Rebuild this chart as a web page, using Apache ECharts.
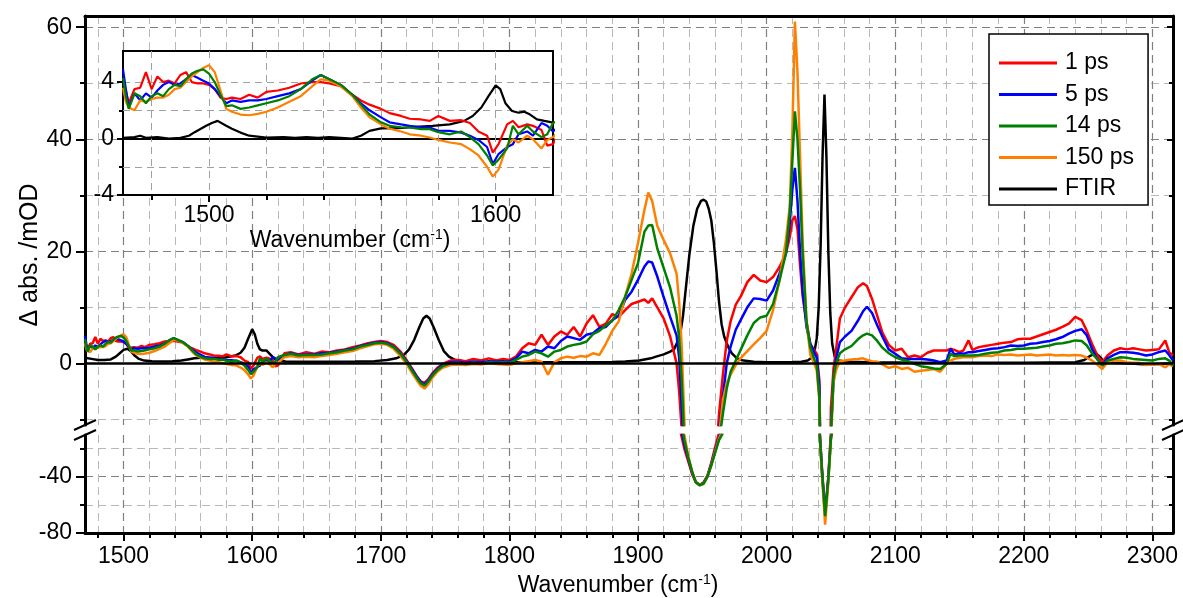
<!DOCTYPE html>
<html>
<head>
<meta charset="utf-8">
<script src="https://cdn.jsdelivr.net/npm/echarts@6/dist/echarts.min.js"></script>
<style>
  html, body { margin: 0; padding: 0; background: #fff; }
  #chart { width: 1183px; height: 598px; }
</style>
</head>
<body>
<div id="chart"></div>
<script>
// ---------------- data ----------------
// Probe wavenumbers (cm^-1) shared by the four time-resolved spectra
const wn = [
  1470,1471,1472,1474,1476,1478,1480,1482,1484,1486,
  1488,1490,1492,1494,1496,1498,1500,1502,1504,1506,
  1508,1511,1514,1517,1520,1524,1528,1532,1536,1539,
  1542,1546,1550,1553,1556,1560,1563,1567,1570,1574,
  1577,1580,1584,1588,1591,1594,1597,1599,1601,1604,
  1606,1608,1611,1613,1616,1618,1620,
  1625,1630,1636,1642,1648,1654,1660,1666,1672,1678,
  1684,1690,1695,1700,1705,1710,1715,1720,1724,1728,
  1731,1734,1737,1740,1744,1748,1754,1760,1766,1772,
  1778,1784,1790,1795,1800,
  1805,1810,1815,1820,1825,1830,1835,1840,1845,1850,
  1855,1860,1865,1870,1875,1880,1885,1890,1895,1900,
  1905,1908,1911,1915,1920,1925,1930,
  1932,1934,1936,1939,1942,1945,1948,1951,1954,1957,
  1960,1963,1966,1969,1972,1976,1980,1985,1990,1995,
  2000,2005,2010,2015,2018,2020,2022,2024,2026,2028,
  2031,2034,2037,2039,2041,2043,2045.5,2048,2050,2052,
  2054,2057,2061,2066,2071,2075,2078,2082,2086,2090,
  2095,2100,2105,2110,2115,2120,2125,2130,2135,2140,
  2143,2146,2150,2153,2157,2160,2165,2170,2175,2180,
  2185,2190,2195,2200,2205,2210,2215,2220,2225,2230,
  2235,2240,2245,2249,2253,2257,2261,2265,2270,2275,
  2280,2285,2290,2295,2300,2305,2310,2313,2316
];

// Δ absorbance (mOD) at 1 ps
const ps1 = [
  3.2,3.4,2.5,3.5,3.6,4.7,3.5,4.4,4.0,4.1,
  3.9,4.5,4.7,4.0,3.9,3.9,3.8,3.5,2.9,2.8,
  2.9,2.8,3.1,2.9,3.3,3.4,3.6,3.9,4.0,4.0,
  3.9,3.7,3.1,2.7,2.4,2.1,1.8,1.6,1.4,1.35,
  1.25,1.6,1.25,1.3,1.1,0.5,0.2,-1.0,-0.4,1.0,
  1.25,0.8,1.0,0.9,0.6,-0.5,-0.4,
  1.8,2.0,1.6,2.0,1.7,2.1,2.0,2.3,2.5,2.9,
  3.2,3.6,3.8,4.0,3.8,3.3,2.2,0.6,-0.8,-2.3,
  -3.2,-3.5,-2.8,-1.8,-0.8,-0.1,0.5,0.6,0.4,0.8,
  0.5,0.9,0.5,0.8,0.6,
  1.2,2.7,3.6,3.3,5.1,3.3,4.8,5.7,5.1,6.5,
  4.8,7.1,8.6,6.5,7.1,8.8,8.3,9.5,10.6,11.0,
  11.4,10.8,11.6,10.0,8.0,4.8,0.0,
  -5,-12,-20,-29,-38,-44,-46,-44,-39,-30,
  -19,-9,-2,4,7.5,10.5,12,14.5,15.8,14.8,
  14.5,15.4,17.2,19.6,22.5,25.5,26.3,24,17.5,12,
  7.5,3.4,2.4,1.7,-3,-33,-66,-40,-8,-1,
  2.5,8,10,11.8,13.6,14.3,13.8,11.5,8.5,5.5,
  3.3,2.3,2.6,1.1,1.4,1.1,1.9,2.3,2.3,2.3,
  2.6,2.4,2.0,2.3,4.1,2.4,2.9,3.1,3.3,3.5,
  3.7,3.8,4.3,4.4,4.4,4.8,5.2,5.6,6.0,6.5,
  7.1,8.3,7.7,5.8,3.5,1.5,0.2,1.4,2.3,2.7,
  2.5,2.7,2.5,2.3,2.4,2.5,4.1,2.0,1.4
];

// Δ absorbance (mOD) at 5 ps
const ps5 = [
  4.9,3.5,2.2,3.2,2.7,3.2,2.9,3.4,3.8,4.0,
  3.8,3.9,4.2,4.5,4.3,4.1,3.9,3.5,3.0,2.5,
  2.7,2.6,2.7,2.7,2.8,3.0,3.2,3.5,4.1,4.5,
  4.2,3.8,3.1,2.5,2.0,1.5,1.15,1.0,0.9,0.8,
  0.78,0.55,0.54,0.42,0.2,-0.1,-0.6,-1.8,-1.1,-0.6,
  -0.4,0.3,0.5,0.2,1.1,0.9,0.5,
  1.4,1.8,1.5,1.6,1.6,1.8,1.9,2.1,2.4,2.6,
  3.1,3.4,3.7,3.8,3.6,3.0,1.9,0.4,-1.0,-2.4,
  -3.3,-3.8,-3.0,-2.0,-1.0,-0.3,0.2,0.3,0.1,0.3,
  0.2,0.4,0.3,0.4,0.3,
  0.9,2.1,1.8,2.4,2.1,3.0,2.7,4.0,4.8,4.5,
  4.2,5.1,5.4,6.3,6.5,7.7,8.5,11.3,12.8,14.9,
  17.3,18.2,18.0,15.5,11.8,8.3,5.0,
  1.0,-8,-17,-27,-37,-44,-46,-44.5,-40,-31,
  -21,-12,-6,0,3,6,7.8,10,11.6,11.5,
  11.2,13,16,19.6,25,31,34.9,29,20,13,
  6.5,3.5,2.0,1.0,-4,-35,-67,-41,-12,-3,
  0.8,3.8,4.8,5.8,7.6,9.3,10.1,9.0,6.8,4.8,
  2.5,1.7,0.9,0.8,0.8,0.8,0.7,0.5,0.2,0.5,
  2.6,1.6,1.8,1.7,2.0,2.0,2.2,2.4,2.6,2.7,
  2.9,3.2,3.1,3.2,3.5,3.6,3.8,4.0,4.3,4.7,
  5.3,5.8,6.1,5.0,2.6,0.8,-0.4,0.9,1.5,2.0,
  2.0,1.9,1.7,1.4,1.6,2.0,2.3,1.5,0.5
];

// Δ absorbance (mOD) at 14 ps
const ps14 = [
  4.3,3.0,2.1,3.2,3.0,2.5,3.0,3.2,3.0,3.5,
  3.8,3.7,4.2,4.6,4.8,4.9,4.6,4.0,3.1,2.3,
  2.35,2.1,2.2,2.35,2.5,2.7,3.0,3.5,4.2,4.5,
  4.2,3.8,3.1,2.4,1.7,1.15,0.9,0.8,0.78,0.66,
  0.66,0.45,0.3,0.5,0.1,-0.4,-1.2,-1.9,-1.5,-0.7,
  0.9,0.3,0.9,0.5,0.1,0.3,1.1,
  1.5,1.7,1.4,1.5,1.5,1.6,1.8,2.0,2.3,2.5,
  3.0,3.3,3.6,3.7,3.5,2.9,1.8,0.3,-1.2,-2.6,
  -3.5,-4.0,-3.2,-2.2,-1.2,-0.5,0.0,0.1,-0.1,0.1,
  0.0,0.2,0.1,0.2,0.1,
  0.6,1.2,1.5,2.1,1.8,1.2,2.1,2.4,3.0,3.3,
  3.5,3.9,5.2,5.8,6.8,7.6,9.5,11.9,14.9,17.9,
  23.5,24.6,24.7,20.5,17.0,13.5,8.5,
  4.5,-3,-14,-26,-36,-44,-46,-45,-40,-32,
  -23,-14,-9,-4.5,-1.5,0.5,2.5,5,7.2,8.2,
  8.5,10.6,14.8,19.6,27,36,45,40,31,19.5,
  7.5,2.8,0.8,-0.3,-6,-36,-68,-42,-13,-2.5,
  0,1.8,2.5,3.1,4.3,5.0,5.3,5.0,4.0,2.8,
  1.8,1.1,0.7,0.4,-0.1,-0.5,-0.7,-0.9,-1.0,-0.1,
  1.7,1.3,1.4,1.4,1.4,1.4,1.5,1.7,1.9,2.0,
  2.3,2.4,2.6,2.6,2.7,2.8,3.0,3.2,3.5,3.6,
  3.8,4.1,4.0,3.2,1.8,0.8,-0.4,0.5,0.8,1.1,
  1.0,0.8,0.7,0.6,0.5,0.8,0.9,0.5,-0.4
];

// Δ absorbance (mOD) at 150 ps
const ps150 = [
  3.6,2.6,2.2,2.0,2.7,2.6,2.8,2.9,2.9,3.1,
  3.5,3.6,4.0,4.4,4.7,5.0,5.2,4.7,3.4,2.1,
  1.9,1.7,1.65,1.75,1.9,2.2,2.6,3.0,3.7,4.2,
  4.1,3.7,3.0,2.2,1.5,1.0,0.7,0.5,0.3,0.2,
  0.07,-0.1,-0.28,-0.4,-0.75,-1.2,-2.0,-2.7,-2.2,-0.5,
  -0.05,-0.28,0.2,-0.05,-0.7,-0.1,0.1,
  1.1,1.3,1.1,1.2,1.1,1.3,1.5,1.7,2.0,2.2,
  2.7,3.1,3.4,3.5,3.3,2.6,1.4,-0.1,-1.6,-3.0,
  -4.0,-4.5,-3.7,-2.6,-1.5,-0.8,-0.3,-0.2,-0.3,-0.1,
  -0.2,0.0,-0.1,-0.2,-0.3,
  0.0,0.2,0.4,0.6,0.3,-2.0,0.2,0.9,1.2,1.0,
  1.3,1.2,1.8,1.5,3.5,5.8,7.5,11.9,16.0,21.5,
  27.4,30.5,29.0,24.5,22.0,19.6,16.0,
  11,3,-10,-25,-36,-44,-46,-45,-40,-32,
  -22,-13,-6.5,-3.5,-2,-0.3,1.0,2.2,3.4,4.5,
  5.8,9.5,14.8,22,28,41,61,52,37,22,
  7.5,1.5,0,-1.3,-6.5,-38,-74,-44,-14,-3.5,
  -1.2,0.4,0.5,0.7,0.8,0.9,0.6,0.4,0.3,-0.2,
  -0.8,-0.5,-1.0,-0.8,-1.5,-1.3,-1.2,-1.0,-1.5,-0.1,
  0.5,0.8,1.0,1.1,1.1,1.1,1.3,1.4,1.3,1.6,
  1.5,1.6,1.4,1.5,1.6,1.4,1.5,1.6,1.4,1.5,
  1.4,1.5,1.4,1.0,0.5,-0.2,-1.0,0.2,0.5,0.5,
  0.2,0.1,0.1,-0.3,-0.2,-0.1,-0.7,-0.2,-0.5
];

// Ground-state FTIR spectrum, [wavenumber, absorbance] (main panel)
const ftirMain = [
  [1470,1.0],[1475,0.8],[1480,0.6],[1485,0.6],[1490,0.7],[1494,1.2],[1497,1.8],[1500,2.4],
  [1503,2.6],[1506,2.1],[1509,1.3],[1512,0.8],[1516,0.5],[1522,0.4],[1530,0.35],[1538,0.4],
  [1545,0.5],[1550,0.7],[1555,0.9],[1560,1.0],[1570,1.0],[1580,1.1],[1587,1.4],[1591,1.9],
  [1594,2.8],[1597,4.5],[1600,6.1],[1602,5.2],[1604,3.5],[1606,2.5],[1608,2.3],[1611,2.3],
  [1614,1.6],[1617,0.9],[1620,0.5],[1626,0.35],[1640,0.3],[1660,0.3],[1680,0.35],[1695,0.4],
  [1705,0.6],[1712,0.9],[1718,1.5],[1722,2.5],[1726,4.2],[1730,6.5],[1733,8.0],[1735.5,8.5],
  [1738,8.0],[1741,6.5],[1745,4.2],[1749,2.2],[1753,1.2],[1758,0.6],[1765,0.35],[1780,0.25],
  [1800,0.2],[1830,0.2],[1860,0.2],[1880,0.25],[1890,0.35],[1901,0.5],[1910,0.9],[1914,1.2],
  [1920,1.6],[1925,2.1],[1928,2.5],[1931,4.0],[1933,5.5],[1935,8.5],[1937,13],[1940,19.5],
  [1943,24.5],[1946,27.6],[1949,29],[1951,29.2],[1953,28.9],[1955,27.6],[1957,25.5],[1959,21.5],
  [1961,16.5],[1963,11],[1965,7],[1967,4.8],[1970,3.0],[1973,1.8],[1977,0.9],[1982,0.5],
  [1990,0.3],[2000,0.2],[2010,0.2],[2020,0.25],[2027,0.3],[2032,0.5],[2035,1.0],[2037,1.8],
  [2039,4.5],[2040.5,10],[2042,21],[2043.5,37],[2045,48],[2046.5,37],[2048,20],[2049.5,9],
  [2051,3.5],[2053,1.2],[2056,0.5],[2062,0.3],[2080,0.2],[2120,0.1],[2200,0.1],[2240,0.2],
  [2247,0.6],[2252,1.4],[2256,1.8],[2259,1.2],[2262,0.4],[2266,0.1],[2280,0],[2295,-0.2],
  [2305,-0.1],[2316,0]
];

// FTIR trace as drawn in the 1470–1620 cm^-1 inset
const ftirInset = [
  [1470,0.05],[1474,0.1],[1476,0.2],[1478,0.05],[1482,0.1],[1486,0.0],[1490,0.05],[1493,0.2],
  [1495,0.45],[1499,0.9],[1501,1.1],[1503,1.25],[1506,0.9],[1508,0.7],[1511,0.42],[1514,0.2],
  [1520,0.07],[1526,0.1],[1530,0.05],[1534,0.1],[1538,0.05],[1542,0.1],[1546,0.05],[1550,0.0],
  [1553,0.2],[1556,0.54],[1560,0.72],[1566,0.73],[1572,0.82],[1578,0.9],[1584,1.0],[1589,1.25],
  [1592,1.6],[1595,2.2],[1597.5,3.0],[1600,3.76],[1601.6,3.5],[1603.4,2.5],[1605.7,1.95],
  [1608,1.83],[1610,1.9],[1612,1.7],[1614.4,1.36],[1617,1.25],[1620,1.13]
];

const seriesNames = ['1 ps', '5 ps', '14 ps', '150 ps', 'FTIR'];

// Tick positions
const xMajorTicks = [1500,1600,1700,1800,1900,2000,2100,2200,2300];
const xMinorTicks = [1480,1520,1540,1560,1580,1620,1640,1660,1680,1720,1740,1760,1780,
                     1820,1840,1860,1880,1920,1940,1960,1980,2020,2040,2060,2080,
                     2120,2140,2160,2180,2220,2240,2260,2280];
const yUpperMajor = [0,20,40,60];
const yUpperMinor = [-10,10,30,50];
const yLowerMajor = [-40,-80];
const yLowerMinor = [-20,-60];
const insetXMajor = [1500,1600];
const insetXMinor = [1480,1520,1540,1560,1580];
const insetYMajor = [-4,0,4];
const insetYMinor = [-2,2];

// ---------------- layout ----------------
const FONT = 'Liberation Sans';
const PL = 85, PR = 1173, PT = 16, PB = 533;      // outer frame of the main plot
const BREAK_TOP = 425, BREAK_BOT = 435;           // axis break band
const INSET = { left: 123, top: 51, width: 430, height: 144 };

const COLORS = { '1 ps': '#ff0000', '5 ps': '#0000ff', '14 ps': '#008000', '150 ps': '#ff8000', 'FTIR': '#000000' };

const zip = (xs, ys) => xs.map((x, i) => [x, ys[i]]);
const traces = {
  '1 ps': zip(wn, ps1),
  '5 ps': zip(wn, ps5),
  '14 ps': zip(wn, ps14),
  '150 ps': zip(wn, ps150)
};

const plain = v => String(v);
const frameLine = { show: true, onZero: false, lineStyle: { color: '#000', width: 3 } };
const noLine = { show: false, onZero: false };
const majorGrid = { show: true, lineStyle: { color: '#808080', width: 1.2, type: [8, 5] } };
const minorGrid = { show: true, lineStyle: { color: '#b8b8b8', width: 1, type: [8, 5] } };
const insetGrid = { show: true, lineStyle: { color: '#a0a0a0', width: 1, type: [7, 5] } };
const tickStyle = { color: '#000', width: 2 };
const labelStyle = { color: '#000', fontSize: 23, fontFamily: FONT, formatter: plain };

const wavenumberName = '{a|Wavenumber (cm}{s|-1}{a|)}';
const nameRich = {
  a: { fontSize: 23, fontFamily: FONT, color: '#000', lineHeight: 26 },
  s: { fontSize: 14, fontFamily: FONT, color: '#000', lineHeight: 14, verticalAlign: 'top' }
};

const X_MAIN = { type: 'value', min: 1470, max: 2316 };
const X_INSET = { type: 'value', min: 1470, max: 1620, z: 6 };

const xAxis = [
  // upper panel: major verticals
  Object.assign({ gridIndex: 0, position: 'bottom', axisLine: noLine,
    axisTick: { show: false, customValues: xMajorTicks }, axisLabel: { show: false }, splitLine: majorGrid }, X_MAIN),
  // upper panel: minor verticals + top frame
  Object.assign({ gridIndex: 0, position: 'top', axisLine: frameLine,
    axisTick: { show: false, customValues: xMinorTicks }, axisLabel: { show: false }, splitLine: minorGrid }, X_MAIN),
  // lower panel: labelled bottom axis
  Object.assign({ gridIndex: 1, position: 'bottom', axisLine: frameLine,
    axisTick: { show: true, inside: false, length: 8, customValues: xMajorTicks, lineStyle: tickStyle },
    axisLabel: Object.assign({ customValues: xMajorTicks, margin: 12 }, labelStyle),
    splitLine: majorGrid,
    name: wavenumberName, nameLocation: 'middle', nameGap: 40,
    nameTextStyle: { rich: nameRich, padding: [0, 22, 0, 0] } }, X_MAIN),
  // lower panel: minor ticks
  Object.assign({ gridIndex: 1, position: 'bottom', axisLine: noLine,
    axisTick: { show: true, inside: false, length: 5, customValues: xMinorTicks, lineStyle: tickStyle },
    axisLabel: { show: false }, splitLine: minorGrid }, X_MAIN),
  // inset: labelled axis
  Object.assign({ gridIndex: 2, position: 'bottom', axisLine: noLine,
    axisTick: { show: true, inside: false, length: 7, customValues: insetXMajor, lineStyle: tickStyle },
    axisLabel: Object.assign({ customValues: insetXMajor, margin: 9 }, labelStyle),
    splitLine: insetGrid,
    name: wavenumberName, nameLocation: 'middle', nameGap: 31,
    nameTextStyle: { rich: nameRich, padding: [0, 0, 0, 24] } }, X_INSET),
  // inset: minor ticks
  Object.assign({ gridIndex: 2, position: 'bottom', axisLine: noLine,
    axisTick: { show: true, inside: false, length: 5, customValues: insetXMinor, lineStyle: tickStyle },
    axisLabel: { show: false }, splitLine: insetGrid }, X_INSET)
];

const Y_UP = { type: 'value', min: -11, max: 62 };
const Y_LOW = { type: 'value', min: -80, max: -10.4 };
const Y_INSET = { type: 'value', min: -4, max: 6.2, z: 6 };

const yAxis = [
  // 0-3: upper panel
  Object.assign({ gridIndex: 0, position: 'left', axisLine: frameLine,
    axisTick: { show: true, length: 9, customValues: yUpperMajor, lineStyle: tickStyle },
    axisLabel: Object.assign({ customValues: yUpperMajor, margin: 13 }, labelStyle),
    splitLine: majorGrid }, Y_UP),
  Object.assign({ gridIndex: 0, position: 'left', axisLine: noLine,
    axisTick: { show: true, length: 5, customValues: yUpperMinor, lineStyle: tickStyle },
    axisLabel: { show: false }, splitLine: minorGrid }, Y_UP),
  Object.assign({ gridIndex: 0, position: 'right', axisLine: frameLine,
    axisTick: { show: true, inside: true, length: 6, customValues: yUpperMajor, lineStyle: tickStyle },
    axisLabel: { show: false }, splitLine: { show: false } }, Y_UP),
  Object.assign({ gridIndex: 0, position: 'right', axisLine: noLine,
    axisTick: { show: true, inside: true, length: 4, customValues: yUpperMinor, lineStyle: tickStyle },
    axisLabel: { show: false }, splitLine: { show: false } }, Y_UP),
  // 4-7: lower panel
  Object.assign({ gridIndex: 1, position: 'left', axisLine: frameLine,
    axisTick: { show: true, length: 9, customValues: yLowerMajor, lineStyle: tickStyle },
    axisLabel: Object.assign({ customValues: yLowerMajor, margin: 13 }, labelStyle),
    splitLine: { show: false } }, Y_LOW),
  Object.assign({ gridIndex: 1, position: 'left', axisLine: noLine,
    axisTick: { show: true, length: 5, customValues: yLowerMinor, lineStyle: tickStyle },
    axisLabel: { show: false }, splitLine: minorGrid }, Y_LOW),
  Object.assign({ gridIndex: 1, position: 'right', axisLine: frameLine,
    axisTick: { show: true, inside: true, length: 6, customValues: [-40], lineStyle: tickStyle },
    axisLabel: { show: false }, splitLine: majorGrid }, Y_LOW),
  Object.assign({ gridIndex: 1, position: 'right', axisLine: noLine,
    axisTick: { show: true, inside: true, length: 4, customValues: yLowerMinor, lineStyle: tickStyle },
    axisLabel: { show: false }, splitLine: { show: false } }, Y_LOW),
  // 8-10: inset
  Object.assign({ gridIndex: 2, position: 'left', axisLine: noLine,
    axisTick: { show: true, length: 6, customValues: insetYMajor, lineStyle: tickStyle },
    axisLabel: Object.assign({ customValues: insetYMajor, margin: 9 }, labelStyle),
    splitLine: { show: false } }, Y_INSET),
  Object.assign({ gridIndex: 2, position: 'left', axisLine: noLine,
    axisTick: { show: true, length: 4, customValues: insetYMinor, lineStyle: tickStyle },
    axisLabel: { show: false }, splitLine: insetGrid }, Y_INSET),
  Object.assign({ gridIndex: 2, position: 'right', axisLine: noLine,
    axisTick: { show: false, customValues: [4] },
    axisLabel: { show: false }, splitLine: insetGrid }, Y_INSET)
];

function line(name, data, xi, yi, width, z, extra) {
  return Object.assign({
    type: 'line', name, data, xAxisIndex: xi, yAxisIndex: yi,
    showSymbol: false, symbol: 'none', clip: true, silent: true, animation: false, z,
    lineStyle: { color: COLORS[name], width },
    itemStyle: { color: COLORS[name] }
  }, extra || {});
}

const zeroLine = (width) => ({
  silent: true, symbol: 'none', label: { show: false }, animation: false,
  lineStyle: { color: '#000', width, type: 'solid' },
  data: [{ yAxis: 0 }]
});

// drawing order: FTIR beneath, then the transient spectra
const drawOrder = ['1 ps', '5 ps', '150 ps', '14 ps'];

const series = [];
series.push(line('FTIR', ftirMain, 0, 0, 2.5, 2, { markLine: zeroLine(2.5) }));
drawOrder.forEach(n => series.push(line(n, traces[n], 0, 0, 2.5, 2)));
drawOrder.forEach(n => series.push(line(n, traces[n], 2, 4, 2.5, 2)));
series.push(line('FTIR', ftirInset, 4, 8, 2.2, 7, { markLine: zeroLine(2) }));
drawOrder.forEach(n => series.push(line(n, traces[n], 4, 8, 2.2, 7)));

// axis-break marks on both sides of the frame
const brkMid = (BREAK_TOP + BREAK_BOT) / 2;
function breakMarks(xc) {
  return [-5, 5].map(dy => ({
    type: 'line', z: 20, silent: true,
    shape: { x1: xc - 11, y1: brkMid + dy + 5, x2: xc + 11, y2: brkMid + dy - 5 },
    style: { stroke: '#000', lineWidth: 2 }
  }));
}

const option = {
  animation: false,
  backgroundColor: '#fff',
  textStyle: { fontFamily: FONT },
  grid: [
    { left: PL, top: PT, width: PR - PL, height: BREAK_TOP - PT, outerBoundsMode: 'none' },
    { left: PL, top: BREAK_BOT, width: PR - PL, height: PB - BREAK_BOT, outerBoundsMode: 'none' },
    { left: INSET.left, top: INSET.top, width: INSET.width, height: INSET.height, z: 5,
      show: true, backgroundColor: '#fff', borderColor: '#000', borderWidth: 2, outerBoundsMode: 'none' }
  ],
  xAxis, yAxis, series,
  legend: {
    data: seriesNames, orient: 'vertical', left: 989, top: 34, z: 10,
    icon: 'rect', itemWidth: 58, itemHeight: 3, itemGap: 8.5,
    padding: [17.5, 14, 4.5, 10],
    borderColor: '#000', borderWidth: 1.5, backgroundColor: '#fff',
    selectedMode: false,
    textStyle: { fontSize: 23, lineHeight: 23, color: '#000', fontFamily: FONT, padding: [0, 0, 0, 3] }
  },
  graphic: [
    {
      type: 'text', x: 30, y: 255, rotation: Math.PI / 2, z: 20, silent: true,
      style: { text: 'Δ abs. /mOD', font: '25px "Liberation Sans"', fill: '#000',
               align: 'center', verticalAlign: 'middle', textAlign: 'center', textVerticalAlign: 'middle' }
    }
  ].concat(breakMarks(PL), breakMarks(PR))
};

const chart = echarts.init(document.getElementById('chart'), null, { renderer: 'canvas' });
chart.setOption(option);
</script>
</body>
</html>
